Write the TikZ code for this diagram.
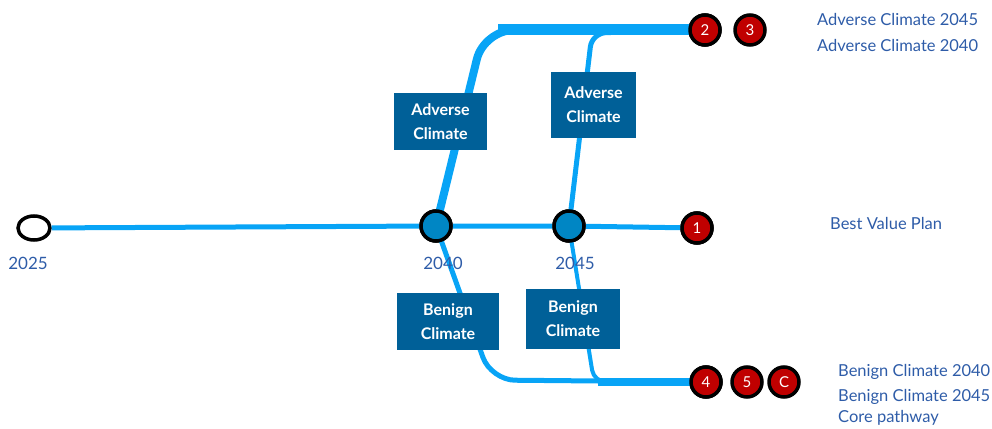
\documentclass[tikz,border=0pt]{standalone}
\usepackage{fontspec}
\setmainfont{Lato}
\usetikzlibrary{shapes.geometric}
\definecolor{track}{RGB}{8,164,246}
\definecolor{hub}{RGB}{0,134,196}
\definecolor{stop}{RGB}{192,0,0}
\definecolor{boxblue}{RGB}{0,96,152}
\definecolor{labelblue}{RGB}{46,92,168}
\begin{document}
\begin{tikzpicture}[x=1pt,y=-1pt,
  trackline/.style={draw=track,line width=#1},
  hubnode/.style={circle,draw=black,line width=3.5pt,fill=hub,minimum size=30pt,inner sep=0pt},
  stopnode/.style={circle,draw=black,line width=3.5pt,fill=stop,minimum size=30pt,inner sep=0pt,
    text=white,font=\fontsize{15}{15}\selectfont},
  scenario/.style={fill=boxblue,text=white,align=center,inner sep=0pt,
    font=\bfseries\fontsize{16}{24}\selectfont},
  yearlabel/.style={text=labelblue,font=\fontsize{17}{17}\selectfont},
  keylabel/.style={text=labelblue,anchor=west,inner sep=0pt,font=\fontsize{16.5}{16.5}\selectfont}]
\useasboundingbox (0,0) rectangle (992,428);

% stations on the timeline
\node[ellipse,draw=black,line width=3.5pt,fill=white,minimum width=32pt,minimum height=24pt,inner sep=0pt] (y2025) at (34,228) {};
\node[hubnode] (y2040) at (436,226) {};
\node[hubnode] (y2045) at (569,226) {};

% end points of each pathway
\node[stopnode] (s1) at (697,228) {1};
\node[stopnode] (s2) at (705,30) {2};
\node[stopnode] (s3) at (750,30) {3};
\node[stopnode] (s4) at (706,382) {4};
\node[stopnode] (s5) at (747,382) {5};
\node[stopnode] (sC) at (784,382) {C};

% junction coordinates for the branches
\coordinate (adv1) at (484,30);
\coordinate (adv2) at (592,33);
\coordinate (ben1) at (491,380);
\coordinate (ben2) at (594,382);
\coordinate (topjoin) at (498,30);
\coordinate (botjoin) at (598,382);

% core line
\draw[trackline=5pt] (y2025) -- (y2040) -- (y2045) -- (s1);
% adverse branches
\draw[trackline=8pt,rounded corners=30pt] (y2040.center) -- (adv1) -- (s2.center);
\draw[trackline=5pt,rounded corners=14pt] (y2045.center) -- (adv2) -- (s2.center);
\draw[trackline=11pt] (topjoin) -- (s2.center);
% benign branches
\draw[trackline=5pt,rounded corners=24pt] (y2040.center) -- (ben1) -- (s4.center);
\draw[trackline=4pt,rounded corners=12pt] (y2045.center) -- (ben2) -- (s4.center);
\draw[trackline=8pt] (botjoin) -- (s4.center);

% redraw stations on top of the lines
\node[hubnode] at (y2040) {};
\node[hubnode] at (y2045) {};
\node[stopnode] at (s1) {1};
\node[stopnode] at (s2) {2};
\node[stopnode] at (s4) {4};

% scenario boxes
\node[scenario,minimum width=93pt,minimum height=57pt] (a1) at (440.5,121.5) {Adverse\\Climate};
\node[scenario,minimum width=85pt,minimum height=66pt] (a2) at (593.5,105) {Adverse\\Climate};
\node[scenario,minimum width=102pt,minimum height=57pt] (b1) at (448,321.5) {Benign\\Climate};
\node[scenario,minimum width=94pt,minimum height=60pt] (b2) at (573,319) {Benign\\Climate};

% years
\node[yearlabel] (t2025) at (28,263) {2025};
\node[yearlabel] (t2040) at (443,263) {2040};
\node[yearlabel] (t2045) at (575,263) {2045};

% key
\node[keylabel] (k2) at (817,19) {Adverse Climate 2045};
\node[keylabel] (k3) at (817,45) {Adverse Climate 2040};
\node[keylabel] (k1) at (830,223) {Best Value Plan};
\node[keylabel] (k4) at (838,372) {Benign Climate 2040};
\node[keylabel] (k5) at (838,397) {Benign Climate 2045};
\node[keylabel] (kC) at (838,418) {Core pathway};
\end{tikzpicture}
\end{document}
